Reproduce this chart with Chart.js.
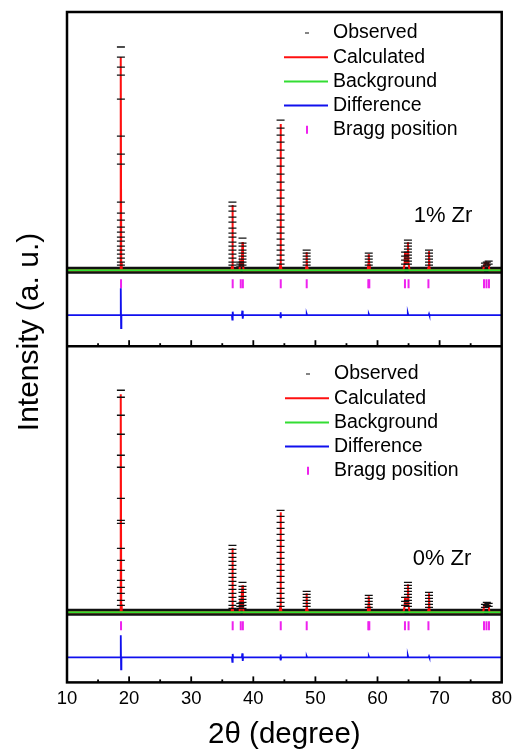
<!DOCTYPE html>
<html>
<head>
<meta charset="utf-8">
<script src="https://cdn.jsdelivr.net/npm/chart.js@4"></script>
<style>
  html, body { margin: 0; padding: 0; background: #fff; overflow: hidden; }
  #wrap { position: relative; width: 517px; height: 749px; }
</style>
</head>
<body>
<div id="wrap"><canvas id="xrd"></canvas></div>
<script>
// 2-theta positions of the calculated profile points (shared by both patterns)
const calcX = [10, 18.55, 18.63, 18.68, 18.73, 18.81, 36.48, 36.58, 36.64, 36.70, 36.80,
    37.78, 37.88, 38.02, 38.14, 38.26, 38.34, 38.44, 44.24, 44.33, 44.39, 44.45, 44.54,
    48.44, 48.53, 48.59, 48.65, 48.74, 58.42, 58.52, 58.59, 58.67, 58.76,
    64.18, 64.36, 64.44, 64.56, 64.80, 64.90, 65.00, 65.16, 68.10, 68.22, 68.29, 68.36, 68.46,
    77.02, 77.16, 77.30, 77.50, 77.70, 77.88, 78.02, 80];
const calcZr1 = [0, 0, 80, 2130, 80, 0, 0, 40, 650, 40, 0,
    0, 80, 50, 60, 280, 50, 0, 0, 60, 1460, 60, 0,
    0, 30, 180, 30, 0, 0, 60, 160, 60, 0,
    0, 60, 180, 70, 80, 280, 70, 0, 0, 30, 190, 30, 0,
    0, 50, 70, 80, 60, 70, 0, 0];
const calcZr0 = [0, 0, 80, 2180, 80, 0, 0, 40, 640, 40, 0,
    0, 90, 60, 60, 270, 50, 0, 0, 60, 1000, 60, 0,
    0, 30, 190, 30, 0, 0, 60, 160, 60, 0,
    0, 60, 150, 70, 80, 280, 70, 0, 0, 30, 190, 30, 0,
    0, 60, 80, 90, 70, 80, 0, 0];

// observed points: peak position and the intensities read along each peak
const obsPeaks = [18.68, 36.64, 37.90, 38.26, 44.39, 48.59, 58.59, 64.44, 64.90, 68.29, 77.30, 77.60, 77.90];
const obsZr1 = [
    [2230, 2130, 2030, 1950, 1710, 1340, 1160, 1060, 680, 570, 500, 430, 380, 330, 290, 240, 200, 160, 120, 80, 50],
    [680, 640, 590, 530, 480, 420, 370, 330, 280, 240, 200, 160, 120, 80, 50],
    [80, 60, 40],
    [320, 270, 240, 200, 170, 140, 110, 80, 50],
    [1500, 1420, 1350, 1280, 1200, 1120, 1040, 960, 880, 800, 720, 640, 560, 500, 430, 370, 310, 250, 200, 150, 100, 60],
    [200, 170, 140, 110, 80, 50],
    [170, 140, 110, 80, 50],
    [180, 140, 100, 60],
    [300, 270, 240, 210, 180, 150, 120, 90, 60],
    [200, 170, 140, 110, 80, 50],
    [70, 40], [80, 50], [90, 60]
];
const obsZr0 = [
    [2220, 2150, 1970, 1780, 1570, 1450, 1140, 890, 920, 640, 520, 420, 320, 250, 190, 120, 70],
    [670, 630, 590, 550, 510, 470, 430, 390, 350, 310, 270, 230, 190, 150, 110, 70, 40],
    [90, 60, 40],
    [300, 260, 230, 200, 160, 130, 100, 70, 40],
    [1020, 960, 900, 840, 780, 720, 660, 600, 540, 480, 420, 360, 300, 240, 190, 140, 100, 60],
    [210, 180, 150, 120, 90, 60],
    [170, 140, 110, 80, 50],
    [150, 110, 70],
    [300, 270, 240, 210, 180, 150, 120, 90, 60],
    [200, 170, 140, 110, 80, 50],
    [80, 50], [100, 70], [90, 60]
];

// difference curve
const diffX = [10, 18.60, 18.66, 18.71, 18.76, 36.56, 36.62, 36.68, 36.74, 38.16, 38.23, 38.30, 38.36,
    44.32, 44.38, 44.44, 44.50, 48.54, 48.60, 48.66, 58.54, 58.60, 58.66, 64.80, 64.88, 64.96,
    68.24, 68.30, 68.36, 80];
const diffZr1 = [0, 0, 270, -130, 0, 0, -45, 35, 0, 0, 45, -35, 0, 0, 30, -30, 0, 0, 12, 0, 0, 10, 0, 0, 20, 0, 0, 12, 0, 0];
const diffZr0 = [0, 0, 220, -120, 0, 0, -45, 35, 0, 0, 40, -35, 0, 0, 30, -30, 0, 0, 10, 0, 0, 10, 0, 0, 20, 0, 0, 10, 0, 0];

// Bragg reflections
const braggX = [18.70, 36.68, 37.98, 38.32, 44.42, 48.60, 58.52, 58.68, 64.42, 65.00, 68.20, 77.15, 77.55, 77.95];

const xTicks = [10, 20, 30, 40, 50, 60, 70, 80];
const panelLabels = ['1% Zr', '0% Zr'];
const legendLabels = ['Observed', 'Calculated', 'Background', 'Difference', 'Bragg position'];

// vertical layout (y units of the shared axis)
const Y_MAX = 6700, SPLIT = 3360;
const BASE_TOP = 4120, BASE_BOT = 700;
const DIFF_OFF = -450, BRAGG_OFF = -135;

const FONT = '"Liberation Sans", Arial, sans-serif';
const RED = '#ff1010', GREEN = '#33dd33', BLUE = '#1010ee', MAGENTA = '#ee22ee';

const pts = (xs, ys, base) => xs.map((x, i) => ({ x: x, y: base + ys[i] }));
const obsPts = (lists, base) => {
    const out = [];
    lists.forEach((hs, i) => hs.forEach(h => out.push({ x: obsPeaks[i], y: base + h })));
    return out;
};
const flat = base => [{ x: 10, y: base }, { x: 80, y: base }];

function panelSets(calc, obs, diff, base) {
    return [
        { label: 'bg', data: flat(base), borderColor: GREEN, borderWidth: 2, pointRadius: 0, order: 1 },
        { label: 'obs', data: obsPts(obs, base), showLine: false, pointStyle: 'line', pointRadius: 4,
          pointBorderWidth: 1.3, borderColor: '#111', backgroundColor: '#111', order: 2 },
        { label: 'calc', data: pts(calcX, calc, base), borderColor: RED, borderWidth: 2, pointRadius: 0, order: 3 },
        { label: 'obsBase', data: flat(base), borderColor: '#111', borderWidth: 7, pointRadius: 0, order: 4 },
        { label: 'diff', data: pts(diffX, diff, base + DIFF_OFF), borderColor: BLUE, borderWidth: 1.8, pointRadius: 0, order: 5 },
        { label: 'bragg', data: braggX.map(x => ({ x: x, y: base + BRAGG_OFF })), showLine: false,
          pointStyle: 'line', rotation: 90, pointRadius: 4.5, pointBorderWidth: 2, borderColor: MAGENTA, order: 6 }
    ];
}

const framePlugin = {
    id: 'frame',
    afterDatasetsDraw(chart) {
        const { ctx, chartArea: a, scales: { x, y } } = chart;
        const yDiv = y.getPixelForValue(SPLIT);
        ctx.save();
        ctx.strokeStyle = '#000';
        ctx.lineWidth = 2.5;
        ctx.strokeRect(a.left, a.top, a.right - a.left, a.bottom - a.top);
        ctx.beginPath();
        ctx.moveTo(a.left, yDiv);
        ctx.lineTo(a.right, yDiv);
        ctx.stroke();
        // inward tick marks on both x axes
        ctx.lineWidth = 1.8;
        for (let v = 15; v < 80; v += 5) {
            const px = x.getPixelForValue(v);
            const len = v % 10 === 0 ? 6 : 3;
            [yDiv, a.bottom].forEach(yy => {
                ctx.beginPath();
                ctx.moveTo(px, yy);
                ctx.lineTo(px, yy - len);
                ctx.stroke();
            });
        }
        ctx.restore();
    },
    afterDraw(chart) {
        const { ctx } = chart;
        ctx.save();
        ctx.fillStyle = '#000';
        // y title
        ctx.font = '30px ' + FONT;
        ctx.textAlign = 'center';
        ctx.textBaseline = 'middle';
        ctx.translate(30, 332);
        ctx.rotate(-Math.PI / 2);
        ctx.fillText('Intensity (a. u.)', 0, 0);
        ctx.restore();

        ctx.save();
        ctx.font = '22px ' + FONT;
        ctx.textAlign = 'center';
        ctx.textBaseline = 'middle';
        ctx.fillText(panelLabels[0], 443, 216);
        ctx.fillText(panelLabels[1], 442, 559);

        // two legends
        ctx.font = '19.5px ' + FONT;
        ctx.textAlign = 'left';
        [[33, 333], [374, 334]].forEach(([y0, tx]) => {
            legendLabels.forEach((lab, i) => {
                const yy = y0 + i * 24.2;
                ctx.fillStyle = '#000';
                ctx.fillText(lab, tx, yy);
                ctx.lineWidth = 2;
                ctx.beginPath();
                if (i === 0) {
                    ctx.strokeStyle = '#333';
                    ctx.lineWidth = 1.2;
                    ctx.moveTo(tx - 28, yy); ctx.lineTo(tx - 24, yy);
                } else if (i === 4) {
                    ctx.strokeStyle = MAGENTA;
                    ctx.moveTo(tx - 26, yy - 4); ctx.lineTo(tx - 26, yy + 4);
                } else {
                    ctx.strokeStyle = [RED, GREEN, BLUE][i - 1];
                    ctx.moveTo(tx - 49, yy); ctx.lineTo(tx - 5, yy);
                }
                ctx.stroke();
            });
        });
        ctx.restore();
    }
};

new Chart(document.getElementById('xrd'), {
    type: 'line',
    data: {
        datasets: panelSets(calcZr1, obsZr1, diffZr1, BASE_TOP)
            .concat(panelSets(calcZr0, obsZr0, diffZr0, BASE_BOT))
    },
    options: {
        responsive: true,
        maintainAspectRatio: false,
        animation: false,
        events: [],
        layout: { padding: { left: 67, right: 9, top: 12, bottom: -4 } },
        plugins: { legend: { display: false }, tooltip: { enabled: false } },
        elements: { line: { tension: 0 } },
        scales: {
            x: {
                type: 'linear', min: 10, max: 80,
                afterBuildTicks: axis => { axis.ticks = xTicks.map(v => ({ value: v })); },
                grid: { display: false, drawTicks: false },
                border: { display: false },
                ticks: { color: '#000', padding: 5, font: { family: FONT, size: 18.5 } },
                title: { display: true, text: '2θ (degree)', color: '#000',
                         padding: { top: 3, bottom: 0 }, font: { family: FONT, size: 29.5 } }
            },
            y: { display: false, min: 0, max: Y_MAX }
        }
    },
    plugins: [framePlugin]
});
</script>
</body>
</html>
